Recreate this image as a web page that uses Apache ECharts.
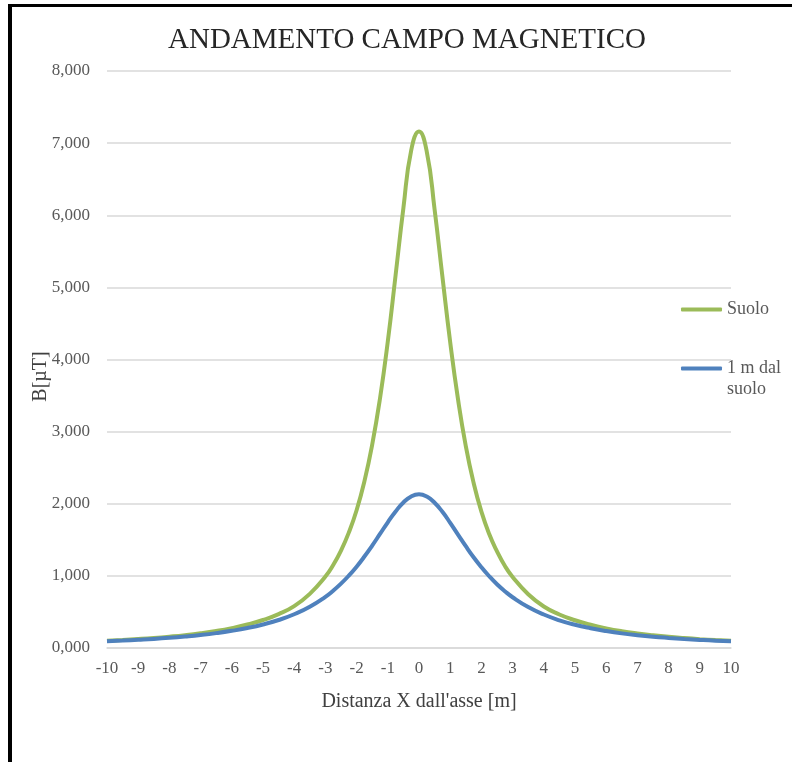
<!DOCTYPE html>
<html>
<head>
<meta charset="utf-8">
<script src="https://cdn.jsdelivr.net/npm/echarts@6/dist/echarts.min.js"></script>
<style>
html,body{margin:0;padding:0;background:#fff;}
#c{width:792px;height:762px;}
</style>
</head>
<body>
<div id="c"></div>
<script>
var xs = [-10,-9.5,-9,-8.5,-8,-7.5,-7,-6.5,-6,-5.5,-5,-4.5,-4,-3.5,-3,
  -2.75,-2.5,-2.25,-2,-1.75,-1.5,-1.25,-1,-0.75,-0.5,-0.25,
  0,
  0.25,0.5,0.75,1,1.25,1.5,1.75,2,2.25,2.5,2.75,
  3,3.5,4,4.5,5,5.5,6,6.5,7,7.5,8,8.5,9,9.5,10];
var suolo = [0.100,0.111,0.124,0.139,0.157,0.178,0.204,0.236,0.276,0.325,0.388,0.470,0.580,0.750,0.990,
  1.150,1.350,1.600,1.910,2.310,2.820,3.460,4.250,5.170,6.100,6.900,
  7.160,
  6.880,6.080,5.150,4.240,3.450,2.800,2.290,1.890,1.580,1.340,1.140,
  0.985,0.745,0.575,0.465,0.385,0.322,0.272,0.232,0.201,0.176,0.155,0.138,0.123,0.110,0.099];
var unMetro = [0.094,0.103,0.114,0.126,0.141,0.159,0.180,0.206,0.238,0.277,0.326,0.388,0.468,0.572,0.710,
  0.795,0.892,1.003,1.128,1.268,1.420,1.581,1.743,1.893,2.018,2.101,
  2.130,
  2.099,2.014,1.888,1.736,1.573,1.411,1.258,1.120,0.995,0.884,0.788,
  0.704,0.568,0.464,0.384,0.322,0.274,0.235,0.203,0.178,0.157,0.140,0.125,0.112,0.101,0.093];
var seriesNames = ['Suolo', '1 m dal suolo'];
var titleText = 'ANDAMENTO CAMPO MAGNETICO';
var xName = "Distanza X dall'asse [m]";
var yName = 'B[\u00b5T]';

function pairs(ys){ return xs.map(function(x,i){ return [x, ys[i]]; }); }

var FONT = '"Liberation Serif", "DejaVu Serif", serif';
var chart = echarts.init(document.getElementById('c'));
chart.setOption({
  backgroundColor: '#fff',
  animation: false,
  title: {
    text: titleText, left: 163, top: 21,
    textStyle: {fontFamily: FONT, fontSize: 29, fontWeight: 'normal', color: '#262626'}
  },
  graphic: [
    {type: 'rect', shape: {x: 8, y: 4, width: 784, height: 3}, style: {fill: '#000'}},
    {type: 'rect', shape: {x: 8, y: 4, width: 4, height: 758}, style: {fill: '#000'}}
  ],
  legend: [
    {
      data: [seriesNames[0]], orient: 'vertical', left: 681, top: 299,
      icon: 'roundRect', itemWidth: 41, itemHeight: 4, padding: 0,
      textStyle: {fontFamily: FONT, fontSize: 18, color: '#595959', lineHeight: 21}
    },
    {
      data: [seriesNames[1]], orient: 'vertical', left: 681, top: 337,
      icon: 'roundRect', itemWidth: 41, itemHeight: 4, padding: 0,
      formatter: function(n){ return ' \n1 m dal\nsuolo'; },
      textStyle: {fontFamily: FONT, fontSize: 18, color: '#595959', lineHeight: 21}
    }
  ],
  grid: {left: 107, right: 61, top: 71, bottom: 114},
  xAxis: {
    type: 'value', min: -10, max: 10, interval: 1,
    name: xName, nameLocation: 'middle', nameGap: 44,
    nameTextStyle: {fontFamily: FONT, fontSize: 20, color: '#404040'},
    axisLine: {lineStyle: {color: '#d9d9d9', width: 1.5}},
    axisTick: {show: false},
    splitLine: {show: false},
    axisLabel: {fontFamily: FONT, fontSize: 17, color: '#595959', margin: 12}
  },
  yAxis: {
    type: 'value', min: 0, max: 8, interval: 1,
    name: yName, nameLocation: 'middle', nameGap: 56, nameMoveOverlap: false,
    nameTextStyle: {fontFamily: FONT, fontSize: 20, color: '#404040', padding: [0,34,0,0]},
    axisLine: {show: false},
    axisTick: {show: false},
    splitLine: {lineStyle: {color: '#d9d9d9', width: 1.5}},
    axisLabel: {
      fontFamily: FONT, fontSize: 17, color: '#595959', margin: 17,
      formatter: function(v){ return v.toFixed(3).replace('.', ','); }
    }
  },
  series: [
    {name: seriesNames[0], type: 'line', smooth: true, symbol: 'none', data: pairs(suolo),
     lineStyle: {color: '#9BBB59', width: 4}, itemStyle: {color: '#9BBB59'}},
    {name: seriesNames[1], type: 'line', smooth: true, symbol: 'none', data: pairs(unMetro),
     lineStyle: {color: '#4F81BD', width: 4}, itemStyle: {color: '#4F81BD'}}
  ]
});
</script>
</body>
</html>
